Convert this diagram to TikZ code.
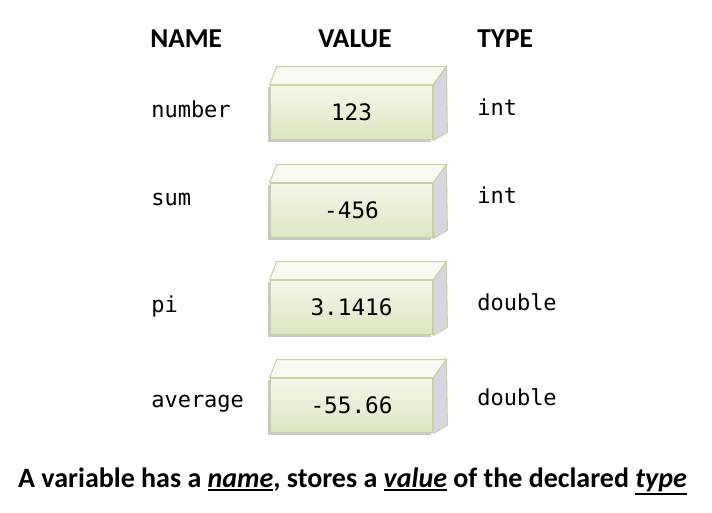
\documentclass[tikz,border=0pt]{standalone}
\usepackage{fontspec}
\setmonofont{DejaVu Sans Mono}
\newfontfamily\carlito{Carlito}
\usetikzlibrary{positioning,calc,shadows}
\definecolor{boxedge}{RGB}{196,210,160}
\definecolor{frontlight}{RGB}{244,248,234}
\definecolor{frontdark}{RGB}{218,230,192}
\definecolor{topface}{RGB}{249,251,242}
\definecolor{sideface}{RGB}{214,214,224}
\newcommand{\keyword}[1]{\vtop{\hbox{\textit{#1}}\kern1.2pt\hrule height 1.7pt}}

\begin{document}
\begin{tikzpicture}[x=0.75pt, y=-0.75pt,
    header/.style={anchor=base west, inner sep=0pt, font=\carlito\bfseries\fontsize{20.5}{24}\selectfont},
    vartext/.style={anchor=base west, inner sep=0pt, font=\ttfamily\fontsize{16.5}{20}\selectfont},
    valbox/.style={rectangle, draw=boxedge, line width=0.8pt, top color=frontlight, bottom color=frontdark,
        minimum width=122pt, minimum height=41pt, inner sep=0pt, font=\ttfamily\fontsize{17}{20}\selectfont,
        drop shadow={shadow xshift=-1.5pt, shadow yshift=-1.5pt, fill=black!22, opacity=1}},
    topside/.style={draw=boxedge, line width=0.8pt, fill=topface},
    rightside/.style={draw=boxedge, line width=0.8pt, fill=sideface}
]
\useasboundingbox (0,0) rectangle (712,512);

% column titles
\node[header] (hname) at (150,47) {NAME};
\node[header] (hvalue) at (318,47) {VALUE};
\node[header] (htype) at (477,47) {TYPE};

% one row per variable
\foreach \i/\nm/\nb/\val/\vy/\typ/\tb in {1/number/117/123/112.5/int/115,
    2/sum/205/-456/210.5/int/203,
    3/pi/312/3.1416/307.5/double/310,
    4/average/407/-55.66/405.5/double/405} {
  \node[vartext] (name\i) at (151,\nb) {\nm};
  \node[valbox] (val\i) at (351.5,\vy) {\val};
  \draw[topside] (val\i.north west) -- ++(7,-18) -- ($(val\i.north east)+(13,-18)$) -- (val\i.north east) -- cycle;
  \draw[rightside] (val\i.north east) -- ++(13,-18) -- ($(val\i.south east)+(14,-8)$) -- (val\i.south east) -- cycle;
  \node[vartext] (type\i) at (477,\tb) {\typ};
}

\node[anchor=base, font=\carlito\bfseries\fontsize{21}{25}\selectfont] (caption) at (352.5,487)
    {A variable has a \keyword{name}, stores a \keyword{value} of the declared \keyword{type}};
\end{tikzpicture}
\end{document}
